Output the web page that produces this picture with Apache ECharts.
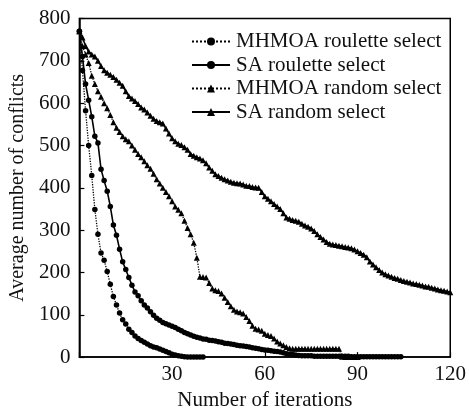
<!DOCTYPE html>
<html>
<head>
<meta charset="utf-8">
<script src="https://cdn.jsdelivr.net/npm/echarts@6/dist/echarts.min.js"></script>
<style>
html,body{margin:0;padding:0;background:#fff;}
#chart{width:469px;height:416px;}
</style>
</head>
<body>
<div id="chart"></div>
<script>
// Series names
const seriesNames = ['MHMOA roulette select', 'SA roulette select', 'MHMOA random select', 'SA random select'];

// Values per iteration (index = iteration number, starting at 0)
const mhmoaRoulette = [770,677,582,500,429,349,290,246,229,202,172,143,123,104,88,78,66,58,50,44,39,35,31,27,24,22,19,16,13,10,7,5,3,2,1,0,0,0,0,0,0];

const saRoulette = [770,710,645,607,568,522,506,444,417,392,356,312,288,255,225,207,188,170,154,145,133,123,116,107,99,92,87,82,79,76,73,70,66,62,58,55,52,49,47,45,43,42,40,39,38,36,35,33,32,31,30,28,27,26,25,24,22,21,20,18,17,16,15,14,13,12,10,8,7,6,5,4,3,
  3,3,3,2,2,2,2,2,2,2,2,2,2,2,2,1,1,1,1,1,1,1,1,1,1,1,1,1,1,1,1,1];

const mhmoaRandom = [770,735,715,695,665,645,628,615,600,588,572,555,542,532,522,515,510,500,490,480,472,463,453,445,433,420,410,400,390,380,368,356,348,340,322,305,290,270,235,190,189,188,175,162,158,156,150,140,130,120,112,108,106,103,95,85,74,67,65,62,55,52,50,44,37,32,28,24,21,
  20,20,20,20,20,20,20,20,20,20,20,20,20,20,20,20,1,0,0,0,0,0];

const saRandom = [770,755,735,722,715,710,700,688,678,672,667,662,655,648,641,628,617,611,605,598,590,585,578,570,563,558,555,552,540,528,517,510,504,501,496,490,480,476,472,469,465,458,448,440,432,428,424,420,417,414,412,411,410,408,405,404,402,401,400,390,380,374,368,362,356,350,340,330,327,324,322,320,315,311,308,304,298,290,284,278,272,268,266,265,263,262,260,259,257,254,250,246,242,236,226,219,212,206,200,196,193,190,187,185,182,180,178,176,174,173,171,169,167,166,164,162,160,158,157,155,153];

// Axis settings
const xMin = 0, xMax = 120, xStep = 30;
const yMin = 0, yMax = 800, yStep = 100;

const FONT = '"Liberation Serif", "Times New Roman", serif';

function toPoints(vals) { return vals.map((v, i) => [i, v]); }

function makeSeries(name, vals, symbol, size, dashed, width) {
  return {
    name: name,
    type: 'line',
    data: toPoints(vals),
    symbol: symbol,
    symbolSize: size,
    lineStyle: { color: '#000', width: width, type: dashed ? 'dotted' : 'solid' },
    itemStyle: { color: '#000' },
    emphasis: { disabled: true },
    animation: false,
    z: 3
  };
}

const chart = echarts.init(document.getElementById('chart'), null, { renderer: 'canvas' });
chart.setOption({
  backgroundColor: '#fff',
  animation: false,
  grid: { left: 78, right: 15, top: 18.5, bottom: 51, show: true, borderColor: '#000', borderWidth: 1.5, backgroundColor: 'transparent' },
  legend: {
    data: seriesNames,
    orient: 'vertical',
    left: 191,
    top: 31,
    itemWidth: 38,
    itemHeight: 10,
    itemGap: 2.5,
    padding: 0,
    textStyle: { fontFamily: FONT, fontSize: 21, color: '#111', padding: [0, 0, 0, 1] }
  },
  xAxis: {
    type: 'value',
    min: xMin, max: xMax, interval: xStep,
    name: 'Number of iterations',
    nameLocation: 'middle',
    nameGap: 28,
    nameTextStyle: { fontFamily: FONT, fontSize: 21, color: '#111' },
    axisLine: { show: true, lineStyle: { color: '#000', width: 1.5 } },
    axisTick: { show: true, inside: true, length: 5, lineStyle: { color: '#000', width: 1.2 } },
    axisLabel: { fontFamily: FONT, fontSize: 21, color: '#111', margin: 7, formatter: v => v === 0 ? '' : String(v) },
    splitLine: { show: false }
  },
  yAxis: {
    type: 'value',
    min: yMin, max: yMax, interval: yStep,
    name: 'Average number of conflicts',
    nameLocation: 'middle',
    nameGap: 51,
    nameTextStyle: { fontFamily: FONT, fontSize: 20, color: '#111' },
    axisLine: { show: true, lineStyle: { color: '#000', width: 1.5 } },
    axisTick: { show: true, inside: true, length: 5, lineStyle: { color: '#000', width: 1.2 } },
    axisLabel: { fontFamily: FONT, fontSize: 21, color: '#111', margin: 9 },
    splitLine: { show: false }
  },
  series: [
    makeSeries(seriesNames[0], mhmoaRoulette, 'circle', 5.5, true, 1.3),
    makeSeries(seriesNames[1], saRoulette, 'circle', 5.5, false, 1.6),
    makeSeries(seriesNames[2], mhmoaRandom, 'triangle', 6, true, 1.3),
    makeSeries(seriesNames[3], saRandom, 'triangle', 6, false, 1.6)
  ]
});
</script>
</body>
</html>
